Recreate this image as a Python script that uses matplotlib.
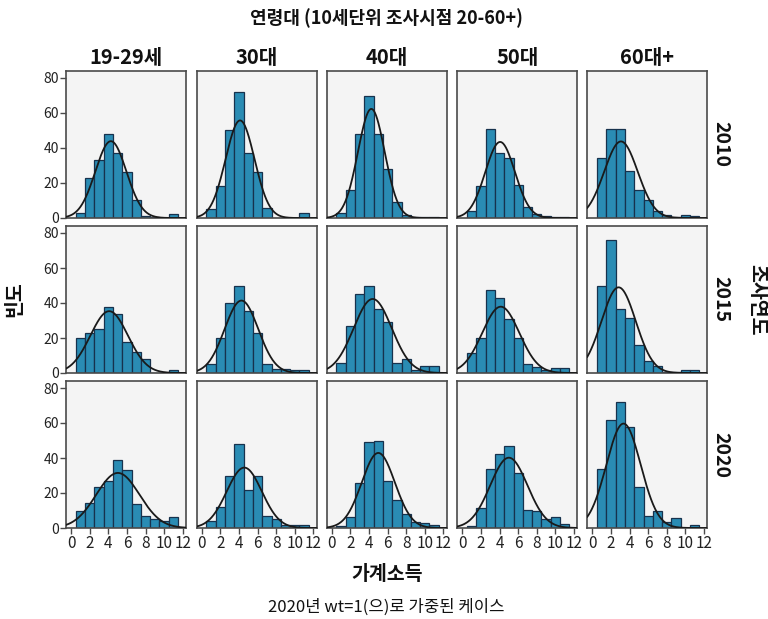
import numpy as np
import matplotlib
matplotlib.use("Agg")
import matplotlib.pyplot as plt

plt.rcParams['font.family'] = ['Noto Sans CJK KR', 'DejaVu Sans']

# Household income histograms by age group (columns) and survey year (rows)
age_groups = ["19-29세", "30대", "40대", "50대", "60대+"]
years = ["2010", "2015", "2020"]
bin_centers = np.arange(1, 12)          # income bins of width 1: 0.5-1.5, ..., 10.5-11.5
x_ticks = [0, 2, 4, 6, 8, 10, 12]
y_ticks = [0, 20, 40, 60, 80]

counts_2010 = [
    [3, 23, 33, 48, 37, 26, 10, 1, 0.5, 0, 2],
    [5, 18, 50, 72, 37, 26, 5.5, 0, 0, 0, 3],
    [3, 16, 48, 69.5, 48, 28, 9, 1.5, 0.5, 0.5, 0.5],
    [4, 18, 51, 37, 34, 19, 6, 2, 1, 0.5, 0.5],
    [34, 51, 51, 27, 16, 10, 4, 1.5, 0.5, 1.5, 1],
]
counts_2015 = [
    [20, 23, 25, 37.5, 33.5, 18, 12, 8, 0, 0, 1.5],
    [5, 20, 40, 50, 35.5, 23, 5, 2.5, 2.5, 2, 2],
    [6, 27, 45, 49.5, 36.5, 29, 6, 8, 1.5, 4, 4],
    [11.5, 20, 47.5, 43, 31, 20, 5, 3.5, 1.5, 3, 3],
    [50, 76, 36.5, 31.5, 16, 7, 4, 0.5, 0.5, 2, 2],
]
counts_2020 = [
    [9.5, 14.5, 23.5, 27, 39, 33, 14, 7, 5, 4, 6.5],
    [4, 12, 29.5, 48, 21.5, 30, 7, 5, 2, 2, 2],
    [1, 6.5, 25.5, 49, 50, 27, 16, 8, 3.5, 3, 2],
    [1, 11.5, 34, 42.5, 47, 31.5, 10.5, 9.5, 5, 6.5, 2.5],
    [34, 61.5, 72, 57.5, 23.5, 7, 9.5, 3.5, 5.5, 0, 1.5],
]
all_counts = [counts_2010, counts_2015, counts_2020]

BAR_FILL = "#2a8cb4"
BAR_EDGE = "#17324d"
PANEL_BG = "#f4f4f4"
SPINE = "#4a4a4a"
TEXT = "#111111"

W, H = 768, 619
fig = plt.figure(figsize=(W / 100, H / 100), dpi=100)

col_left = [66, 196.7, 326.7, 457.3, 587.3]
row_top = [71, 226, 381]
pw, ph = 120, 147

xmin, xmax = -0.54, 12.35
ymin, ymax = 0, 84

xs = np.linspace(xmin, xmax, 300)

for r, year in enumerate(years):
    for c, age in enumerate(age_groups):
        left = col_left[c] / W
        bottom = 1 - (row_top[r] + ph) / H
        ax = fig.add_axes([left, bottom, pw / W, ph / H])
        ax.set_facecolor(PANEL_BG)
        cnt = np.asarray(all_counts[r][c], dtype=float)
        ax.bar(bin_centers, cnt, width=1.0, color=BAR_FILL,
               edgecolor=BAR_EDGE, linewidth=0.9, zorder=2)

        # fitted normal curve scaled to the total frequency
        n = cnt.sum()
        mu = (cnt * bin_centers).sum() / n
        var = (cnt * (bin_centers - mu) ** 2).sum() / n + 1 / 12
        sd = np.sqrt(var)
        pdf = n / (sd * np.sqrt(2 * np.pi)) * np.exp(-0.5 * ((xs - mu) / sd) ** 2)
        ax.plot(xs, pdf, color="#1a1a1a", lw=1.3, zorder=3)

        ax.set_xlim(xmin, xmax)
        ax.set_ylim(ymin, ymax)
        for s in ax.spines.values():
            s.set_color(SPINE)
            s.set_linewidth(1.2)

        if c == 0:
            ax.set_yticks(y_ticks)
            ax.tick_params(axis="y", length=4, width=1, color=SPINE,
                           labelsize=10, labelcolor="#222222", pad=1)
        else:
            ax.set_yticks([])
        if r == 2:
            ax.set_xticks(x_ticks)
            ax.tick_params(axis="x", length=4, width=1, color=SPINE,
                           labelsize=11, labelcolor="#222222", pad=1)
        else:
            ax.set_xticks([])

        if r == 0:
            ax.set_title(age, fontsize=14.5, fontweight="bold", pad=5, color=TEXT)
        if c == 4:
            ax.text(1.11, 0.5, year, transform=ax.transAxes, rotation=-90,
                    ha="center", va="center", fontsize=14, fontweight="bold",
                    color=TEXT)

cx = (col_left[0] + col_left[-1] + pw) / 2 / W
cy = 1 - (row_top[0] + row_top[-1] + ph) / 2 / H

fig.text(cx, 1 - 18 / H, "연령대 (10세단위 조사시점 20-60+)", ha="center", va="center",
         fontsize=13, fontweight="bold", color=TEXT)
fig.text(cx, 1 - 575 / H, "가계소득", ha="center", va="center",
         fontsize=14, fontweight="bold", color=TEXT)
fig.text(cx, 1 - 607 / H, "2020년 wt=1(으)로 가중된 케이스", ha="center", va="center",
         fontsize=12, color=TEXT)
fig.text(15 / W, cy, "빈도", rotation=90, ha="center", va="center",
         fontsize=14, fontweight="bold", color=TEXT)
fig.text(757 / W, cy, "조사연도", rotation=-90, ha="center", va="center",
         fontsize=14, fontweight="bold", color=TEXT)

fig.savefig("out.png", dpi=100)
